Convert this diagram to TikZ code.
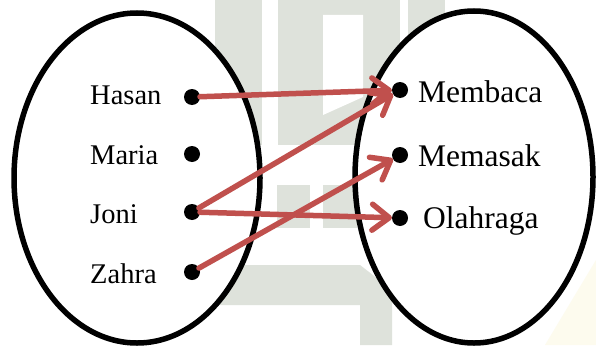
\documentclass[tikz,border=0pt]{standalone}
\usepackage{fontspec}
\setmainfont{Liberation Serif}
\usetikzlibrary{arrows.meta}
\definecolor{wmark}{HTML}{DEE2DB}
\definecolor{wyellow}{HTML}{FDFBEE}
\definecolor{arrowred}{HTML}{C0504D}
\tikzset{
  setshape/.style={draw=black, line width=5.5pt, fill=white},
  elem/.style={circle, fill=black, minimum size=16pt, inner sep=0pt, outer sep=0pt},
  leftlabel/.style={anchor=base west, inner sep=0pt, font=\fontsize{28.5}{30}\selectfont},
  rightlabel/.style={anchor=base west, inner sep=0pt, font=\fontsize{31.5}{33}\selectfont},
  maparrow/.style={draw=arrowred, line width=5.5pt, line cap=round,
    -{Straight Barb[length=17pt, width=26pt, line width=5.5pt, round]}},
}
\begin{document}
\begin{tikzpicture}[x=1pt, y=-1pt]
\useasboundingbox (0,0) rectangle (596,345);
\fill[white] (0,0) rectangle (596,345);

% faint background emblem
\fill[wmark] (215,0) rectangle (262,145);
\fill[wmark] (278,0) rectangle (400,145);
\fill[white] (323,15) -- (363,15) -- (363,97) -- (323,115) -- cycle;
\fill[wmark] (408,0) rectangle (445,145);
\fill[wmark] (277,185) rectangle (310,228);
\fill[wmark] (323,185) rectangle (357,228);
\fill[wmark] (200,265) -- (360,265) -- (392,290) -- (392,345) -- (360,345) -- (360,305) -- (200,305) -- cycle;
\fill[wyellow] (545,345) -- (596,260) -- (596,345) -- cycle;

% the two sets
\draw[setshape] (137,178) ellipse [x radius=123, y radius=165];
\draw[setshape] (474,177) ellipse [x radius=119, y radius=166];

% domain elements
\node[elem] (h) at (192,97) {};
\node[elem] (m) at (192,154) {};
\node[elem] (j) at (192,212) {};
\node[elem] (z) at (192,272) {};
\node[leftlabel] (lh) at (90,104) {Hasan};
\node[leftlabel] (lm) at (90,164) {Maria};
\node[leftlabel] (lj) at (90,223) {Joni};
\node[leftlabel] (lz) at (90,283) {Zahra};

% codomain elements
\node[elem] (mb) at (400,90) {};
\node[elem] (ms) at (400,155) {};
\node[elem] (ol) at (400,218) {};
\node[rightlabel] (lmb) at (418,102) {Membaca};
\node[rightlabel] (lms) at (418,166) {Memasak};
\node[rightlabel] (lol) at (423,228) {Olahraga};

% the relation
\draw[maparrow] (h) -- (mb);
\draw[maparrow] (j) -- (mb);
\draw[maparrow] (j) -- (ol);
\draw[maparrow] (z) -- (ms);
\end{tikzpicture}
\end{document}
